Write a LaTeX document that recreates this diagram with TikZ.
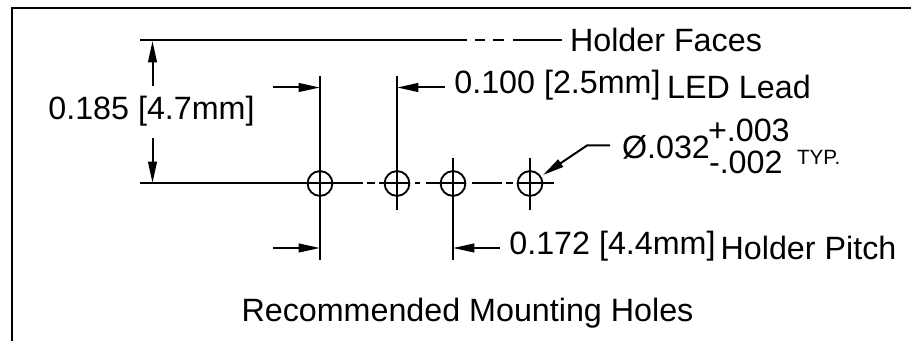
\documentclass[tikz,border=0pt]{standalone}
\usepackage{fontspec}
\setmainfont{Liberation Sans}
\usetikzlibrary{arrows.meta}
\begin{document}
\begin{tikzpicture}[x=0.75pt,y=-0.75pt,line width=1.5pt,
    lbl/.style = {inner sep=0pt,font=\fontsize{24.2}{24.2}\selectfont},
    typ/.style = {inner sep=0pt,font=\fontsize{15.5}{15.5}\selectfont},
    hole/.style = {draw,circle,minimum size=18.6pt,inner sep=0pt,line width=1.4pt},
    dim/.style = {-{Triangle[length=16pt,width=6.5pt]}}]
    \useasboundingbox (0,0) rectangle (911,341);

    \coordinate (frameBL) at (11.5,341);
    \coordinate (frameTL) at (11.5,8);
    \coordinate (frameTR) at (911,8);
    \draw (frameBL) -- (frameTL) -- (frameTR);

    \node[hole] (h1) at (320,183.5) {};
    \node[hole] (h2) at (397,183.5) {};
    \node[hole] (h3) at (453,183.5) {};
    \node[hole] (h4) at (530,183.5) {};

    \node[lbl] (faces) at (666,40) {Holder Faces};
    \node[lbl] (depth) at (151.5,111) {0.185 [4.7mm]};
    \node[lbl] (lead) at (557.5,85) {0.100 [2.5mm]};
    \node[lbl] (ledlead) at (739,87) {LED Lead};
    \node[lbl,anchor=west] (dia) at (621,147) {Ø.032};
    \node[lbl,anchor=west] (plus) at (707,130) {+.003};
    \node[lbl,anchor=west] (minus) at (708,162) {-.002};
    \node[typ,anchor=west] (typ) at (796,157) {TYP.};
    \node[lbl] (pitch) at (612.5,246) {0.172 [4.4mm]};
    \node[lbl] (holderpitch) at (808.5,248) {Holder Pitch};
    \node[lbl] (title) at (467.5,313) {Recommended Mounting Holes};

    % holder face line
    \coordinate (faceL) at (140,40.5);
    \coordinate (faceM) at (467,40.5);
    \coordinate (faceD1) at (475,40.5);
    \coordinate (faceD2) at (485,40.5);
    \coordinate (faceD3) at (493,40.5);
    \coordinate (faceD4) at (504,40.5);
    \coordinate (faceR) at (513,40.5);
    \coordinate (faceE) at (562,40.5);
    \draw (faceL) -- (faceM);
    \draw (faceD1) -- (faceD2);
    \draw (faceD3) -- (faceD4);
    \draw (faceR) -- (faceE);

    % centre line
    \coordinate (cenL) at (140,183.5);
    \coordinate (cenA) at (363,183.5);
    \coordinate (cenB) at (367,183.5);
    \coordinate (cenC) at (375,183.5);
    \coordinate (cenD) at (379,183.5);
    \coordinate (cenE) at (410,183.5);
    \coordinate (cenF) at (415,183.5);
    \coordinate (cenP) at (420,183.5);
    \coordinate (cenG) at (426,183.5);
    \coordinate (cenH) at (466,183.5);
    \coordinate (cenI) at (472,183.5);
    \coordinate (cenJ) at (502,183.5);
    \coordinate (cenK) at (506,183.5);
    \coordinate (cenM) at (513,183.5);
    \coordinate (cenN) at (518,183.5);
    \coordinate (cenO) at (554,183.5);
    \draw (cenL) -- (cenA);
    \draw (cenB) -- (cenC);
    \draw (cenD) -- (cenE);
    \draw (cenF) -- (cenP);
    \draw (cenG) -- (cenH);
    \draw (cenI) -- (cenJ);
    \draw (cenK) -- (cenM);
    \draw (cenN) -- (cenO);

    % vertical lines
    \coordinate (v1t) at (320,76);
    \coordinate (v1b) at (320,260);
    \coordinate (v2t) at (397,76);
    \coordinate (v2b) at (397,210);
    \coordinate (v3t) at (453,158);
    \coordinate (v3b) at (453,260);
    \coordinate (v4t) at (530,158);
    \coordinate (v4b) at (530,210);
    \draw (v1t) -- (v1b);
    \draw (v2t) -- (v2b);
    \draw (v3t) -- (v3b);
    \draw (v4t) -- (v4b);

    % dimension arrows
    \coordinate (upS) at (152.5,86);
    \coordinate (upE) at (152.5,41);
    \coordinate (dnS) at (152.5,138);
    \coordinate (dnE) at (152.5,183);
    \draw[dim] (upS) -- (upE);
    \draw[dim] (dnS) -- (dnE);
    \coordinate (a1S) at (273,87.5);
    \coordinate (a1E) at (320,87.5);
    \coordinate (a2S) at (273,248);
    \coordinate (a2E) at (320,248);
    \coordinate (a3S) at (445,87.5);
    \coordinate (a3E) at (397,87.5);
    \coordinate (a4S) at (500,248);
    \coordinate (a4E) at (453,248);
    \draw[dim] (a1S) -- (a1E);
    \draw[dim] (a2S) -- (a2E);
    \draw[dim] (a3S) -- (a3E);
    \draw[dim] (a4S) -- (a4E);

    % leader to the last hole
    \coordinate (leadS) at (610,145.5);
    \coordinate (leadM) at (587,145.5);
    \coordinate (leadE) at (543,175);
    \draw[dim] (leadS) -- (leadM) -- (leadE);
\end{tikzpicture}
\end{document}
